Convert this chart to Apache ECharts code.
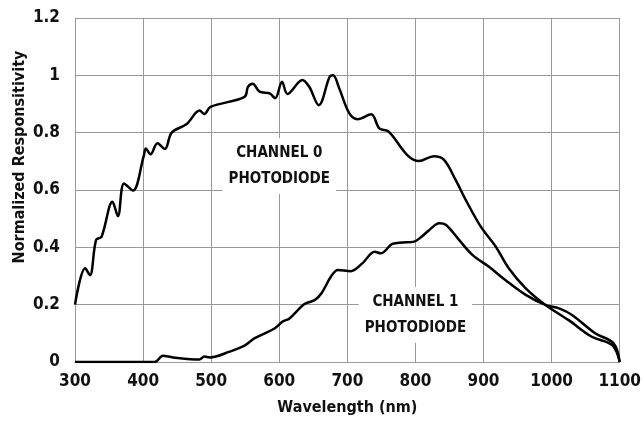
<!DOCTYPE html>
<html>
<head>
<meta charset="utf-8">
<script src="https://cdn.jsdelivr.net/npm/echarts@6/dist/echarts.min.js"></script>
<style>
  html, body { margin: 0; padding: 0; background: #fff; }
  #chart { width: 644px; height: 423px; }
</style>
</head>
<body>
<div id="chart"></div>
<script>
// wavelength (nm) / normalized responsivity
const ch0Wavelength = [300, 315, 322, 331, 339, 355, 363, 372, 385, 401, 404, 411, 421, 432, 442, 464, 483, 490, 499, 549, 554, 561, 571, 586, 594, 604, 612, 634, 644, 658, 674, 679, 688, 703, 715, 735, 747, 761, 788, 805, 827, 842, 859, 874, 896, 918, 937, 962, 991, 1025, 1059, 1089, 1100]
const ch0Response = [0.20, 0.327, 0.303, 0.426, 0.437, 0.559, 0.509, 0.623, 0.598, 0.719, 0.745, 0.725, 0.763, 0.743, 0.80, 0.83, 0.877, 0.865, 0.89, 0.925, 0.96, 0.971, 0.943, 0.937, 0.92, 0.978, 0.935, 0.984, 0.96, 0.896, 0.995, 1.0, 0.955, 0.867, 0.847, 0.864, 0.815, 0.803, 0.722, 0.701, 0.718, 0.705, 0.635, 0.565, 0.472, 0.402, 0.327, 0.257, 0.199, 0.146, 0.088, 0.059, 0.0]

const ch1Wavelength = [300, 417, 429, 444, 483, 490, 498, 527, 549, 564, 593, 605, 615, 637, 652, 662, 676, 686, 705, 722, 740, 749, 766, 781, 798, 808, 820, 835, 845, 864, 884, 908, 932, 962, 991, 1011, 1030, 1064, 1091, 1100]
const ch1Response = [0, 0, 0.022, 0.016, 0.009, 0.019, 0.016, 0.036, 0.057, 0.083, 0.117, 0.141, 0.152, 0.202, 0.216, 0.24, 0.298, 0.321, 0.317, 0.344, 0.385, 0.379, 0.412, 0.417, 0.42, 0.435, 0.46, 0.484, 0.478, 0.426, 0.373, 0.332, 0.286, 0.234, 0.199, 0.187, 0.164, 0.10, 0.065, 0.0]

const xTicks = { min: 300, max: 1100, step: 100 }
const yTicks = { min: 0, max: 1.2, step: 0.2 }

const FONT = "'Liberation Sans Narrow', 'DejaVu Sans Condensed', 'Roboto', sans-serif"

function pairs(xs, ys) {
  return xs.map((x, i) => [x, ys[i]])
}

const chart = echarts.init(document.getElementById('chart'))

const annot = (coord, text) => ({
  coord: coord,
  symbol: 'rect',
  symbolSize: 0,
  label: {
    show: true,
    position: 'inside',
    formatter: text,
    fontFamily: FONT,
    fontWeight: 'bold',
    fontSize: 15,
    lineHeight: 26,
    color: '#111',
    backgroundColor: '#fff',
    padding: [2, 6]
  }
})

chart.setOption({
  animation: false,
  grid: {
    left: 75,
    right: 23,
    top: 18,
    bottom: 61
  },
  // y title sits higher than the plot middle in the original
  graphic: [{
    type: 'text',
    x: 20,
    y: 157,
    rotation: Math.PI / 2,
    style: {
      text: 'Normalized Responsitivity',
      font: 'bold 16px ' + FONT,
      fill: '#111',
      align: 'center',
      verticalAlign: 'middle'
    }
  }],
  xAxis: {
    type: 'value',
    min: xTicks.min,
    max: xTicks.max,
    interval: xTicks.step,
    name: 'Wavelength (nm)',
    nameLocation: 'middle',
    nameGap: 38,
    nameTextStyle: { fontFamily: FONT, fontWeight: 'bold', fontSize: 16, color: '#111' },
    axisLine: { show: true, lineStyle: { color: '#999', width: 1 } },
    axisTick: { show: false },
    axisLabel: {
      fontFamily: FONT, fontWeight: 'bold', fontSize: 17, color: '#111', margin: 11,
      formatter: v => String(v)
    },
    splitLine: { show: true, lineStyle: { color: '#999', width: 1 } }
  },
  yAxis: {
    type: 'value',
    min: yTicks.min,
    max: yTicks.max,
    interval: yTicks.step,
    axisLine: { show: true, lineStyle: { color: '#999', width: 1 } },
    axisTick: { show: false },
    axisLabel: { fontFamily: FONT, fontWeight: 'bold', fontSize: 17, color: '#111', margin: 15 },
    splitLine: { show: true, lineStyle: { color: '#999', width: 1 } }
  },
  series: [
    {
      name: 'Channel 0',
      type: 'line',
      smooth: 0.35,
      showSymbol: false,
      lineStyle: { color: '#000', width: 2.5 },
      data: pairs(ch0Wavelength, ch0Response),
      markPoint: {
        silent: true,
        data: [annot([600, 0.684], 'CHANNEL 0\nPHOTODIODE')]
      }
    },
    {
      name: 'Channel 1',
      type: 'line',
      smooth: 0.35,
      showSymbol: false,
      lineStyle: { color: '#000', width: 2.5 },
      data: pairs(ch1Wavelength, ch1Response),
      markPoint: {
        silent: true,
        data: [annot([800, 0.164], 'CHANNEL 1\nPHOTODIODE')]
      }
    }
  ]
})
</script>
</body>
</html>
